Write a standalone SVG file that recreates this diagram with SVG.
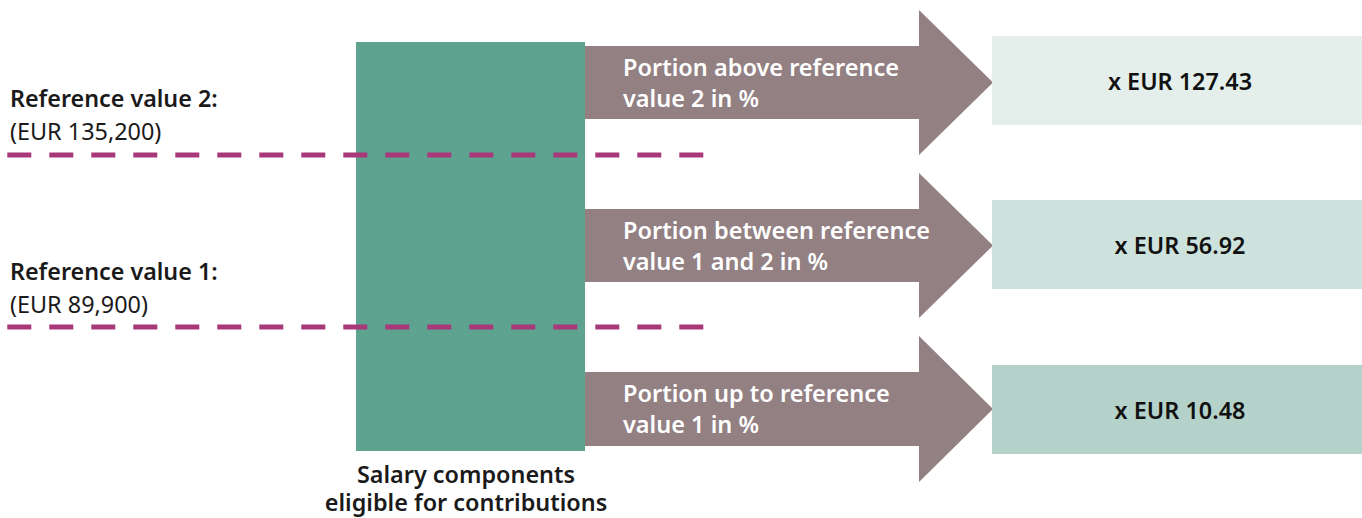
<svg xmlns="http://www.w3.org/2000/svg" width="1362" height="518" viewBox="0 0 1362 518">
  <style>
    text { font-family: "Noto Sans", "Liberation Sans", sans-serif; }
    .lbl { font-size: 23.3px; font-weight: 600; fill: #1a1a1a; }
    .sub { font-size: 23.4px; font-weight: 400; fill: #1a1a1a; }
    .arr { fill: #928083; }
    .arrtxt { font-size: 23.5px; font-weight: 600; fill: #ffffff; }
    .val { font-size: 23.4px; font-weight: 600; fill: #111111; text-anchor: middle; }
    .cap { font-size: 23.4px; font-weight: 600; fill: #1a1a1a; text-anchor: middle; }
    .threshold { stroke: #a8387a; stroke-width: 5; stroke-dasharray: 24 18; fill: none; }
  </style>

  <!-- salary block -->
  <g id="salary">
    <rect x="356" y="42" width="229" height="409" fill="#5ea390"/>
    <text class="cap" x="466" y="483">Salary components</text>
    <text class="cap" x="466" y="511">eligible for contributions</text>
  </g>

  <!-- portion arrows -->
  <g id="connectors">
    <path class="arr" d="M585 46 H919 V10 L993 82.5 L919 155 V119 H585 Z"/>
    <path class="arr" d="M585 209 H919 V173 L993 245.5 L919 318 V282 H585 Z"/>
    <path class="arr" d="M585 372 H919 V336 L993 409 L919 482 V446 H585 Z"/>
  </g>

  <g id="portion-above">
    <text class="arrtxt" x="623" y="76">Portion above reference</text>
    <text class="arrtxt" x="623" y="107">value 2 in %</text>
  </g>
  <g id="portion-between">
    <text class="arrtxt" x="623" y="239">Portion between reference</text>
    <text class="arrtxt" x="623" y="270">value 1 and 2 in %</text>
  </g>
  <g id="portion-up-to">
    <text class="arrtxt" x="623" y="402">Portion up to reference</text>
    <text class="arrtxt" x="623" y="433">value 1 in %</text>
  </g>

  <!-- rate boxes -->
  <g id="rate-high">
    <rect x="992" y="36" width="370" height="89" fill="#e4efeb"/>
    <text class="val" x="1180" y="90">x EUR 127.43</text>
  </g>
  <g id="rate-mid">
    <rect x="992" y="200" width="370" height="89" fill="#cde2dc"/>
    <text class="val" x="1180" y="254">x EUR 56.92</text>
  </g>
  <g id="rate-low">
    <rect x="992" y="365" width="370" height="89" fill="#b5d2ca"/>
    <text class="val" x="1180" y="419">x EUR 10.48</text>
  </g>

  <!-- reference thresholds -->
  <g id="reference-2">
    <text class="lbl" x="10" y="107">Reference value 2:</text>
    <text class="sub" x="10" y="140">(EUR 135,200)</text>
    <line class="threshold" x1="7.3" y1="155" x2="703.3" y2="155"/>
  </g>
  <g id="reference-1">
    <text class="lbl" x="10" y="280">Reference value 1:</text>
    <text class="sub" x="10" y="313">(EUR 89,900)</text>
    <line class="threshold" x1="7.3" y1="327" x2="703.3" y2="327"/>
  </g>
</svg>
